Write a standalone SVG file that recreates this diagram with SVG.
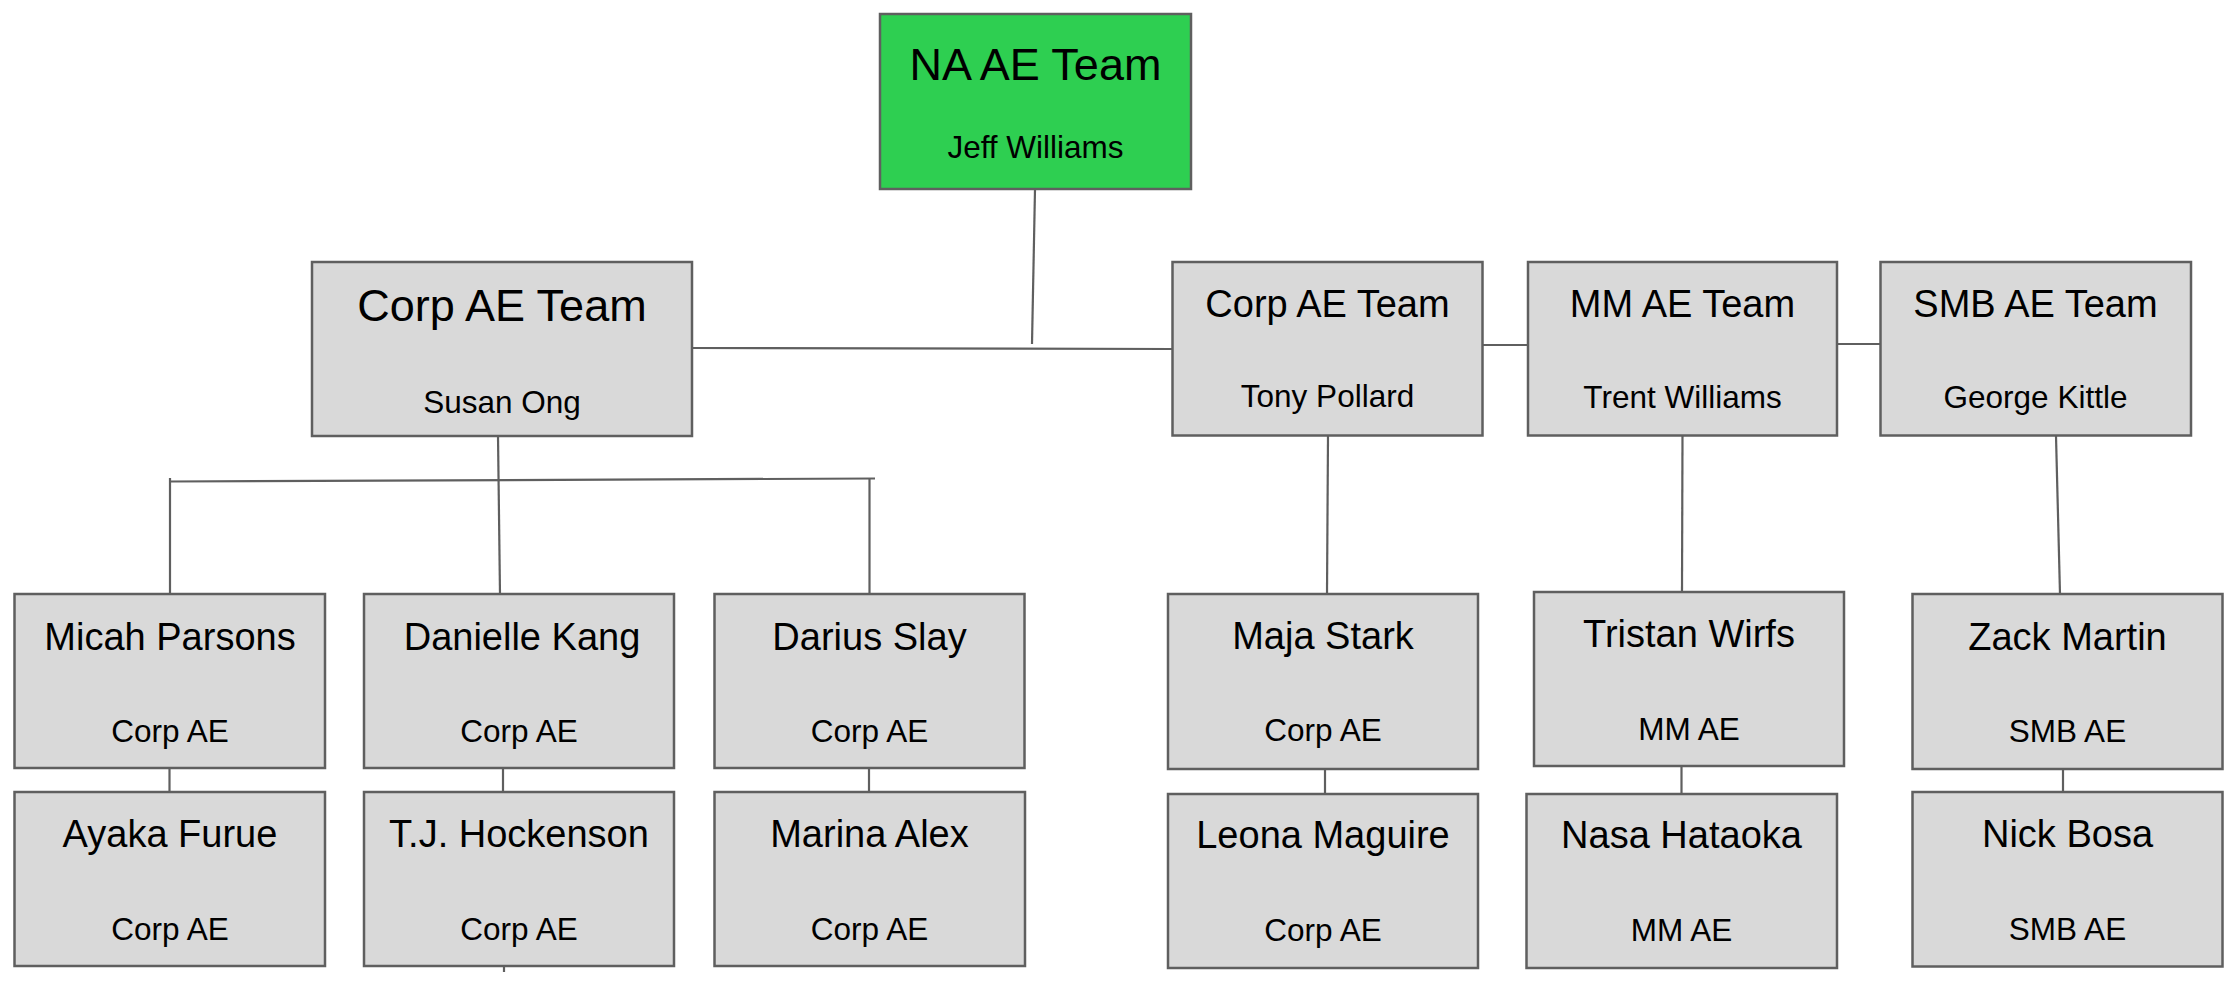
<svg xmlns="http://www.w3.org/2000/svg" width="2238" height="984" viewBox="0 0 2238 984">
<style>
.box{fill:#d9d9d9;stroke:#5f5f5f;stroke-width:2.5}
.green{fill:#2ecf51;stroke:#5f5f5f;stroke-width:2.5}
.c{stroke:#5f5f5f;stroke-width:2.2;fill:none}
text{font-family:"Liberation Sans",Arial,sans-serif;fill:#000;text-anchor:middle}
.big{font-size:45px}
.name{font-size:38px}
.sub{font-size:31.5px}
</style>
<rect width="2238" height="984" fill="#fff"/>
<g id="connectors">
<line class="c" x1="1035" y1="189" x2="1032" y2="344"/>
<line class="c" x1="692" y1="348" x2="1172" y2="349"/>
<line class="c" x1="1483" y1="345" x2="1528" y2="345"/>
<line class="c" x1="1837" y1="344" x2="1881" y2="344"/>
<line class="c" x1="498" y1="436" x2="500" y2="594"/>
<line class="c" x1="170" y1="481.5" x2="875" y2="478.5"/>
<line class="c" x1="170" y1="478" x2="170" y2="594"/>
<line class="c" x1="869.5" y1="479" x2="869.5" y2="594"/>
<line class="c" x1="169.5" y1="768" x2="169.5" y2="792"/>
<line class="c" x1="503" y1="768" x2="503" y2="792"/>
<line class="c" x1="869" y1="768" x2="869" y2="792"/>
<line class="c" x1="504" y1="966" x2="504" y2="972"/>
<line class="c" x1="1328" y1="436" x2="1327" y2="594"/>
<line class="c" x1="1682.5" y1="436" x2="1682" y2="592"/>
<line class="c" x1="2056" y1="436" x2="2060" y2="594"/>
<line class="c" x1="1325" y1="769" x2="1325" y2="794"/>
<line class="c" x1="1681.5" y1="766" x2="1681.5" y2="794"/>
<line class="c" x1="2063" y1="769" x2="2063" y2="792"/>
</g>
<g id="na-ae-team">
<rect class="green" x="880" y="14" width="311" height="175"/>
<text class="big" x="1035.5" y="80">NA AE Team</text>
<text class="sub" x="1035.5" y="158">Jeff Williams</text>
</g>
<g id="corp-ae-team-susan">
<rect class="box" x="312" y="262" width="380" height="174"/>
<text class="big" x="502" y="321">Corp AE Team</text>
<text class="sub" x="502" y="413">Susan Ong</text>
</g>
<g id="corp-ae-team-tony">
<rect class="box" x="1172.5" y="262" width="310" height="173.5"/>
<text class="name" x="1327.5" y="317">Corp AE Team</text>
<text class="sub" x="1327.5" y="407">Tony Pollard</text>
</g>
<g id="mm-ae-team">
<rect class="box" x="1528" y="262" width="309" height="173.5"/>
<text class="name" x="1682.5" y="317">MM AE Team</text>
<text class="sub" x="1682.5" y="408">Trent Williams</text>
</g>
<g id="smb-ae-team">
<rect class="box" x="1880.5" y="262" width="310.5" height="173.5"/>
<text class="name" x="2035.5" y="317">SMB AE Team</text>
<text class="sub" x="2035.5" y="408">George Kittle</text>
</g>
<g id="micah-parsons">
<rect class="box" x="14.5" y="594" width="310.5" height="174"/>
<text class="name" x="170" y="650">Micah Parsons</text>
<text class="sub" x="170" y="741.5">Corp AE</text>
</g>
<g id="danielle-kang">
<rect class="box" x="364" y="594" width="310" height="174"/>
<text class="name" x="522" y="650">Danielle Kang</text>
<text class="sub" x="519" y="741.5">Corp AE</text>
</g>
<g id="darius-slay">
<rect class="box" x="714.5" y="594" width="310" height="174"/>
<text class="name" x="869.5" y="650">Darius Slay</text>
<text class="sub" x="869.5" y="741.5">Corp AE</text>
</g>
<g id="ayaka-furue">
<rect class="box" x="14.5" y="792" width="310.5" height="174"/>
<text class="name" x="170" y="847">Ayaka Furue</text>
<text class="sub" x="170" y="940">Corp AE</text>
</g>
<g id="tj-hockenson">
<rect class="box" x="364" y="792" width="310" height="174"/>
<text class="name" x="519" y="847">T.J. Hockenson</text>
<text class="sub" x="519" y="940">Corp AE</text>
</g>
<g id="marina-alex">
<rect class="box" x="714.5" y="792" width="310.5" height="174"/>
<text class="name" x="869.5" y="847">Marina Alex</text>
<text class="sub" x="869.5" y="940">Corp AE</text>
</g>
<g id="maja-stark">
<rect class="box" x="1168" y="594" width="310" height="175"/>
<text class="name" x="1323" y="649">Maja Stark</text>
<text class="sub" x="1323" y="741">Corp AE</text>
</g>
<g id="leona-maguire">
<rect class="box" x="1168" y="794" width="310" height="174"/>
<text class="name" x="1323" y="848">Leona Maguire</text>
<text class="sub" x="1323" y="941">Corp AE</text>
</g>
<g id="tristan-wirfs">
<rect class="box" x="1534" y="592" width="310" height="174"/>
<text class="name" x="1689" y="647">Tristan Wirfs</text>
<text class="sub" x="1689" y="739.5">MM AE</text>
</g>
<g id="nasa-hataoka">
<rect class="box" x="1526.5" y="794" width="310.5" height="174"/>
<text class="name" x="1681.5" y="848">Nasa Hataoka</text>
<text class="sub" x="1681.5" y="941">MM AE</text>
</g>
<g id="zack-martin">
<rect class="box" x="1912.5" y="594" width="310" height="175"/>
<text class="name" x="2067.5" y="650">Zack Martin</text>
<text class="sub" x="2067.5" y="741.5">SMB AE</text>
</g>
<g id="nick-bosa">
<rect class="box" x="1912.5" y="792" width="310" height="174.5"/>
<text class="name" x="2067.5" y="847">Nick Bosa</text>
<text class="sub" x="2067.5" y="939.5">SMB AE</text>
</g>
</svg>
